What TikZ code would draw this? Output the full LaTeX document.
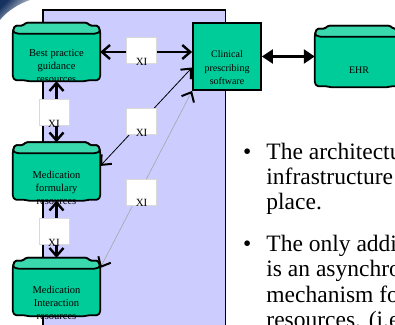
\documentclass[tikz,border=0pt]{standalone}
\usepackage{fontspec}
\setmainfont{Liberation Serif}
\usetikzlibrary{arrows.meta,calc}

\definecolor{panelfill}{RGB}{204,204,255}
\definecolor{canfill}{RGB}{0,204,153}
\definecolor{lidfill}{RGB}{58,217,173}
\definecolor{slidenavy}{RGB}{22,50,96}

% lines of a label, first baseline on the node anchor
\newcommand{\stacklines}[1]{\begin{tabular}[t]{@{}c@{}}#1\end{tabular}}
% interface tag sits low in its box
\newcommand{\xitag}{\raisebox{-15pt}[0pt][0pt]{XI}}

% wavy cylinder drawn round an empty node
\newcommand{\drawcan}[1]{%
  \filldraw[canbody]
    ($(#1.north west)+(0,9)$) -- ++(2,-6) -- ++(8,0) -- ++(3,-3)
    -- ($(#1.north east)+(-13,0)$) -- ++(3,3) -- ++(8,0) -- ++(2,6)
    -- ($(#1.south east)+(0,-4)$) -- ++(-2,3) -- ++(-10,0) -- ++(-3,1)
    -- ($(#1.south west)+(15,0)$) -- ++(-3,-1) -- ++(-10,0) -- ++(-2,-3)
    -- cycle;
  \filldraw[canlid]
    ($(#1.north west)+(0,9)$) -- ++(2,-6) -- ++(8,0) -- ++(3,-3)
    -- ($(#1.north east)+(-13,0)$) -- ++(3,3) -- ++(8,0) -- ++(2,6)
    -- ++(-5,2) -- ($(#1.north west)+(5,11)$) -- cycle;
}

\begin{document}
\begin{tikzpicture}[
    x=1pt, y=-1pt,
    panel/.style={fill=panelfill, draw=black, line width=1.8pt},
    canbody/.style={fill=canfill, draw=black, line width=1.8pt, rounded corners=1.5pt, line join=round},
    canlid/.style={canbody, fill=lidfill},
    store/.style={minimum width=87pt, minimum height=58pt, inner sep=0pt},
    storetext/.style={anchor=base, inner sep=0pt, font=\fontsize{10.5}{13}\selectfont},
    software/.style={fill=canfill, draw=black, line width=1.8pt, minimum width=68pt, minimum height=67pt, inner sep=0pt},
    xibox/.style={fill=white, draw=gray!30, line width=0.4pt, inner sep=0pt, minimum width=30pt, minimum height=26pt, font=\fontsize{11}{13}\selectfont},
    bigarrow/.style={line width=2.4pt, arrows={Straight Barb[length=8pt,width=14pt]-Straight Barb[length=8pt,width=14pt]}},
    thinarrow/.style={line width=0.8pt, arrows={Straight Barb[length=8pt,width=14pt,line width=2pt,color=black]-Straight Barb[length=8pt,width=14pt,line width=2pt,color=black]}},
    faintarrow/.style={thinarrow, draw=gray!70, line width=0.6pt},
    ehrlink/.style={line width=2.4pt, arrows={Triangle[length=11pt,width=14pt]-Triangle[length=11pt,width=14pt]}},
    bulletblock/.style={anchor=base west, inner sep=0pt, font=\fontsize{23.5}{25}\selectfont}
  ]
  \clip (0,0) rectangle (395,324);
  \fill[white] (0,0) rectangle (395,324);

  % corner of the slide background
  \shade[top color=slidenavy, bottom color=white, shading angle=45]
    (0,0) -- (30,0) .. controls (18,4) and (6,12) .. (0,20) -- cycle;

  % knowledge side panel
  \draw[panel] (43,10) rectangle (225.5,340);

  % resource stores
  \node[store] (bestpr) at (56.5,52) {};
  \node[store] (formulary) at (56.5,171.5) {};
  \node[store] (interact) at (56.5,287) {};
  \node[store, minimum width=88pt, minimum height=61pt] (ehr) at (359,56.5) {};
  \foreach \s in {bestpr,formulary,interact,ehr} {\drawcan{\s}}

  \node[storetext] (bestpr-text) at ([yshift=-4pt]bestpr.center) {\stacklines{Best practice\\guidance\\resources}};
  \node[storetext] (formulary-text) at ([yshift=-6.5pt]formulary.center) {\stacklines{Medication\\formulary\\resources}};
  \node[storetext] (interact-text) at ([yshift=-6pt]interact.center) {\stacklines{Medication\\Interaction\\resources}};
  \node[storetext, font=\fontsize{10}{13}\selectfont] (ehr-text) at ([yshift=-17pt]ehr.center) {EHR};

  % prescribing system
  \node[software] (clinical) at (227,56.5) {};
  \node[storetext, font=\fontsize{10}{13.5}\selectfont] (clinical-text) at ([yshift=-1pt]clinical.center) {\stacklines{Clinical\\prescribing\\software}};

  % interfaces
  \draw[bigarrow] (bestpr.east) -- (bestpr.east -| clinical.west)
    node[xibox, pos=0.45, yshift=2pt] (xi-best) {\xitag};
  \draw[bigarrow] (bestpr.south) -- (formulary.north)
    node[xibox, pos=0.51, xshift=-2.5pt] (xi-upper) {\xitag};
  \draw[bigarrow] (formulary.south) -- (interact.north)
    node[xibox, pos=0.54, xshift=-2.5pt] (xi-lower) {\xitag};
  \draw[thinarrow] ([yshift=5.5pt]formulary.east) -- ([yshift=-11pt]clinical.west)
    node[xibox, pos=0.45] (xi-formulary) {\xitag};
  \draw[faintarrow] ([yshift=19pt]interact.east) -- (clinical.south west)
    node[xibox, pos=0.45, yshift=-3.5pt] (xi-interact) {\xitag};
  \draw[ehrlink] (clinical.east) -- (ehr.west);

  % bullet points
  \node[bulletblock] (point-arch) at (243,159)
    {\begin{tabular}[t]{@{}l@{\hspace{15pt}}l@{}}\textbullet & The architecture\\ & infrastructure\\ & place.\end{tabular}};
  \node[bulletblock, font=\fontsize{23.5}{25.5}\selectfont] (point-async) at (243,251)
    {\begin{tabular}[t]{@{}l@{\hspace{15pt}}l@{}}\textbullet & The only addition\\ & is an asynchronous\\ & mechanism for\\ & resources. (i.e.\end{tabular}};
\end{tikzpicture}
\end{document}
